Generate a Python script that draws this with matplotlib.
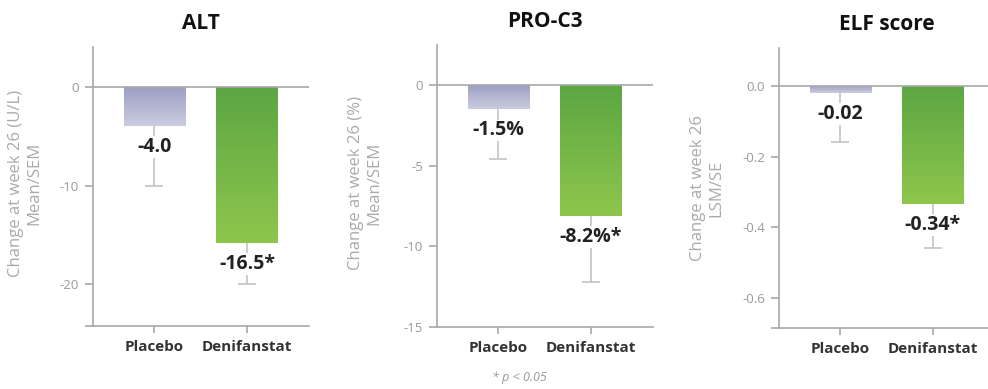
import numpy as np
import matplotlib
matplotlib.use("Agg")
import matplotlib.pyplot as plt
from matplotlib.colors import LinearSegmentedColormap
from matplotlib.ticker import FixedLocator

plt.rcParams['font.family'] = ['Open Sans', 'DejaVu Sans']

# --- Data ---
groups = ["Placebo", "Denifanstat"]

alt_mean = [-4.0, -15.8]
alt_err = [6.0, 4.2]
alt_labels = ["-4.0", "-16.5*"]

pro_mean = [-1.5, -8.1]
pro_err = [3.1, 4.1]
pro_labels = ["-1.5%", "-8.2%*"]

elf_mean = [-0.02, -0.335]
elf_err = [0.14, 0.125]
elf_labels = ["-0.02", "-0.34*"]

titles = ["ALT", "PRO-C3", "ELF score"]
ylabel_line1 = ["Change at week 26 (U/L)", "Change at week 26 (%)", "Change at week 26"]
ylabel_line2 = ["Mean/SEM", "Mean/SEM", "LSM/SE"]
yticks = [[0, -10, -20], [0, -5, -10, -15], [0.0, -0.2, -0.4, -0.6]]
ytick_fmt = ["{:.0f}", "{:.0f}", "{:.1f}"]
ylims = [(-24.2, 4.0), (-15.0, 2.5), (-0.685, 0.107)]
# --- End data ---

GREY = "#a8a8a8"
TICKGREY = "#9a9a9a"
ERRGREY = "#c4c4c4"
grad_placebo = LinearSegmentedColormap.from_list("pl", ["#9c9ec4", "#caccde"])
grad_denif = LinearSegmentedColormap.from_list("dn", ["#5ca643", "#8ec64c"])

fig = plt.figure(figsize=(9.88, 3.89), dpi=100)
W, H = 988, 389

# axes boxes in pixels: left, right, top, bottom
boxes = [(93, 309, 47, 326), (437, 653, 45, 327), (779, 995, 48, 328)]
ylabel_pos = [(25, 183), (365, 183), (707, 188)]

panels = [(alt_mean, alt_err, alt_labels),
          (pro_mean, pro_err, pro_labels),
          (elf_mean, elf_err, elf_labels)]

x = np.arange(len(groups))
bar_w = 0.66

for i, (means, errs, labels) in enumerate(panels):
    l, r, t, b = boxes[i]
    ax = fig.add_axes([l / W, 1 - b / H, (r - l) / W, (b - t) / H])

    bars = ax.bar(x, means, width=bar_w, color="none", edgecolor="none", zorder=2)
    for bar, cmap in zip(bars, [grad_placebo, grad_denif]):
        x0 = bar.get_x()
        x1 = x0 + bar.get_width()
        y1 = bar.get_y() + bar.get_height()
        grad = np.linspace(0, 1, 100).reshape(-1, 1)
        im = ax.imshow(grad, cmap=cmap, aspect="auto", extent=[x0, x1, y1, 0],
                       origin="upper", zorder=2)
        im.set_clip_path(bar)

    # one-sided (downward) error bars, cap only at the lower end
    lower = np.array(means) - np.array(errs)
    ax.vlines(x, means, lower, color=ERRGREY, lw=1.2, zorder=3)
    ax.plot(x, lower, ls="none", marker="_", markersize=13, mew=1.2,
            color=ERRGREY, zorder=3)

    for xi, m, lab in zip(x, means, labels):
        ax.annotate(lab, xy=(xi, m), xytext=(0, -21), textcoords="offset pixels",
                    ha="center", va="center", fontsize=14, fontweight="bold",
                    color="#222222", zorder=5,
                    bbox=dict(facecolor="white", edgecolor="none", pad=0.5))

    ax.axhline(0, color=GREY, lw=1.2, zorder=4)

    ax.set_xlim(-0.66, 1.67)
    ax.set_ylim(*ylims[i])

    for s in ["top", "right"]:
        ax.spines[s].set_visible(False)
    for s in ["left", "bottom"]:
        ax.spines[s].set_color(GREY)
        ax.spines[s].set_linewidth(1.2)

    ax.set_yticks(yticks[i])
    ax.set_yticklabels([ytick_fmt[i].format(v) for v in yticks[i]])
    ax.yaxis.set_minor_locator(FixedLocator([ylims[i][0]]))
    ax.tick_params(axis="y", which="both", length=6, width=1.2, color=GREY,
                   labelsize=9.5, labelcolor=TICKGREY, pad=4)
    ax.set_xticks(x)
    ax.set_xticklabels(groups)
    ax.tick_params(axis="x", length=5, width=1.2, color=GREY, labelsize=11,
                   labelcolor="#333333", pad=5)
    for lab in ax.get_xticklabels():
        lab.set_fontweight("bold")

    ax.set_title(titles[i], fontsize=15, fontweight="bold", color="#111111", pad=13)

    lx, ly = ylabel_pos[i]
    fig.text(lx / W, 1 - ly / H, ylabel_line1[i] + "\n" + ylabel_line2[i],
             rotation=90, ha="center", va="center", multialignment="center",
             fontsize=12, color="#aaaaaa", linespacing=1.15)

fig.text(519 / W, 1 - 378 / H, "* p < 0.05", ha="center", va="center",
         fontsize=9, style="italic", color="#999999")

fig.savefig("out.png", dpi=100)
